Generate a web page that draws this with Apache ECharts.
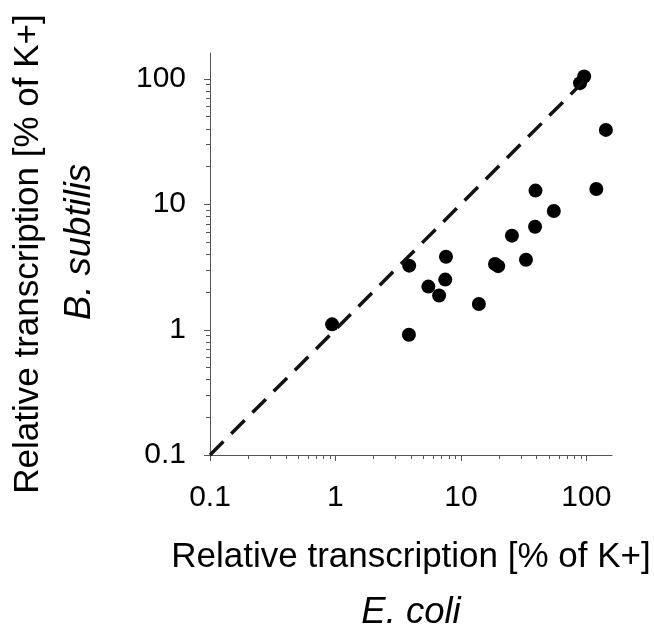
<!DOCTYPE html>
<html>
<head>
<meta charset="utf-8">
<script src="https://cdn.jsdelivr.net/npm/echarts@6/dist/echarts.min.js"></script>
<style>
html,body{margin:0;padding:0;background:#fff;overflow:hidden;}
#chart{width:654px;height:631px;}
</style>
</head>
<body>
<div id="chart"></div>
<script>
// E. coli (x) vs B. subtilis (y) relative transcription [% of K+]
const ecoli =    [0.94, 3.85, 3.87, 5.5, 6.7, 7.5, 7.6, 13.9, 18.7, 19.8, 25.5, 33, 39, 39.3, 55, 120, 143, 89, 96];
const bsubtilis = [1.10, 0.91, 3.23, 2.2, 1.87, 2.5, 3.8, 1.6, 3.33, 3.2, 5.6, 3.6, 6.6, 12.8, 8.8, 13.2, 39, 92, 104];
const identityX = [0.1, 100];
const identityY = [0.1, 100];
const axisMin = 0.1;
const axisMax = 160;
const majorTicks = [0.1, 1, 10, 100];
const minorTicks = [0.2, 0.3, 0.4, 0.5, 0.6, 0.7, 0.8, 0.9, 2, 3, 4, 5, 6, 7, 8, 9, 20, 30, 40, 50, 60, 70, 80, 90];
const xTitle = 'Relative transcription [% of K+]';
const xSpecies = 'E. coli';
const yTitle = 'Relative transcription [% of K+]';
const ySpecies = 'B. subtilis';

const FONT = '"Liberation Sans", Arial, sans-serif';
const AX = '#555';

const chart = echarts.init(document.getElementById('chart'), null, {renderer: 'canvas'});

function fmt(v) {
  const l = Math.log10(v);
  return Math.abs(l - Math.round(l)) < 1e-6 ? String(+v.toPrecision(2)) : '';
}

const tickData = majorTicks.map(v => [v, 6]).concat(minorTicks.map(v => [v, 4]));

function axisCommon() {
  return {
    type: 'log', logBase: 10, min: axisMin, max: axisMax,
    axisLine: {show: true, onZero: false, lineStyle: {color: AX, width: 1}},
    axisTick: {show: false},
    minorTick: {show: false},
    splitLine: {show: false},
    axisLabel: {formatter: fmt, color: '#000', fontFamily: FONT, fontSize: 30},
  };
}

const xAxis = Object.assign(axisCommon(), {
  name: xTitle + '\n{it|' + xSpecies + '}',
  nameLocation: 'middle',
  nameGap: 75,
  nameTextStyle: {color: '#000', fontFamily: FONT, fontSize: 35, lineHeight: 55,
    rich: {it: {fontStyle: 'italic', fontFamily: FONT, fontSize: 36.5, lineHeight: 55, color: '#000'}}}
});
xAxis.axisLabel = Object.assign({}, xAxis.axisLabel, {margin: 28});

const yAxis = Object.assign(axisCommon(), {
  name: yTitle + '\n{it|' + ySpecies + '}',
  nameLocation: 'middle',
  nameRotate: 90,
  nameGap: 104,
  nameTextStyle: {color: '#000', fontFamily: FONT, fontSize: 35, lineHeight: 52,
    rich: {it: {fontStyle: 'italic', fontFamily: FONT, fontSize: 36.5, lineHeight: 52, color: '#000', padding: [0, 0, 0, 24]}}}
});
yAxis.axisLabel = Object.assign({}, yAxis.axisLabel, {margin: 24, padding: [9, 0, 0, 0]});

chart.setOption({
  animation: false,
  backgroundColor: '#fff',
  grid: {left: 210, top: 53, right: 42, bottom: 176, containLabel: false, outerBoundsMode: 'none'},
  xAxis: xAxis,
  yAxis: yAxis,
  series: [
    {
      type: 'custom', name: 'xticks', silent: true, clip: false,
      data: tickData.map(d => [d[0], axisMin, d[1]]),
      renderItem: function (params, api) {
        const p = api.coord([api.value(0), api.value(1)]);
        const x = Math.round(p[0]) + 0.5;
        const y = Math.round(p[1]);
        return {type: 'line', shape: {x1: x, y1: y, x2: x, y2: y + api.value(2)},
          style: {stroke: AX, lineWidth: 1}};
      }
    },
    {
      type: 'custom', name: 'yticks', silent: true, clip: false,
      data: tickData.map(d => [axisMin, d[0], d[1]]),
      renderItem: function (params, api) {
        const p = api.coord([api.value(0), api.value(1)]);
        const x = Math.round(p[0]);
        const y = Math.round(p[1]) + 0.5;
        return {type: 'line', shape: {x1: x, y1: y, x2: x - api.value(2), y2: y},
          style: {stroke: AX, lineWidth: 1}};
      }
    },
    {
      type: 'line', name: 'identity', silent: true,
      data: identityX.map((v, i) => [v, identityY[i]]),
      symbol: 'none',
      lineStyle: {color: '#111', width: 3.5, type: [19, 11]}
    },
    {
      type: 'scatter', name: 'genes',
      data: ecoli.map((v, i) => [v, bsubtilis[i]]),
      symbol: 'circle', symbolSize: 14,
      itemStyle: {color: '#000', opacity: 1}
    }
  ]
});
</script>
</body>
</html>
